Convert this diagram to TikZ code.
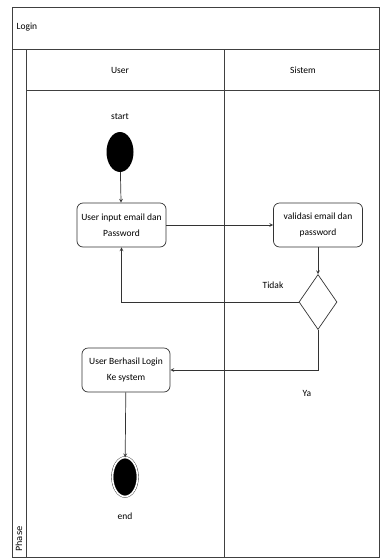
\documentclass[tikz,border=0pt]{standalone}
\usepackage{fontspec}
\setmainfont{Carlito}
\usepackage{tikz}
\usetikzlibrary{shapes,arrows,positioning,calc}

\begin{document}
\begin{tikzpicture}[
    x=1pt, y=-1pt,
    lane/.style={draw=black!75, line width=0.7pt},
    act/.style={rectangle, draw=black!80, line width=0.7pt, rounded corners=6pt, minimum width=89pt, minimum height=44pt, align=center, font=\fontsize{9.5}{16}\selectfont, inner sep=1pt},
    decision/.style={diamond, draw=black!80, line width=0.7pt, minimum width=38pt, minimum height=55pt, inner sep=0pt},
    startnode/.style={ellipse, fill=black, minimum width=27pt, minimum height=40pt, inner sep=0pt},
    endnode/.style={ellipse, fill=black, draw=black!85, double=white, double distance=1.6pt, minimum width=25pt, minimum height=39pt, inner sep=0pt},
    lbl/.style={font=\fontsize{9.5}{11}\selectfont},
    arrow/.style={->, >=stealth, draw=black!80, line width=0.7pt}
]
\useasboundingbox (0,0) rectangle (380,558);

% Swimlanes
\draw[lane] (12,7) rectangle (379.5,557);
\draw[lane] (12,49) -- (380,49);
\draw[lane] (26,49) -- (26,557);
\draw[lane] (26,90) -- (380,90);
\draw[lane] (224,49) -- (224,557);

\node[lbl, anchor=west] (title) at (13,27) {Login};
\node[lbl] (userlane) at (120,70) {User};
\node[lbl] (sistemlane) at (303,70) {Sistem};
\node[lbl, rotate=90] (phase) at (19,539) {\fontspec{DejaVu Sans}\fontsize{8.5}{9}\selectfont Phase};

% Activities
\node[lbl] (startlbl) at (120,117) {start};
\node[startnode] (start) at (120,152) {};
\node[act] (input) at (121.5,225) {User input email dan\\Password};
\node[act] (validasi) at (318,225) {validasi email dan\\password};
\node[decision] (dec) at (318,302) {};
\node[act, minimum width=88pt] (berhasil) at (126,370) {User Berhasil Login\\Ke system};
\node[endnode] (end) at (125,477) {};
\node[lbl] (endlbl) at (125,516) {end};

\draw[arrow] (start) -- (input);
\draw[arrow] (input) -- (validasi);
\draw[arrow] (validasi) -- (dec);
\draw[arrow] (dec.west) -| (input.south);
\node[lbl] (tidak) at (273,285) {Tidak};
\draw[arrow] (dec.south) |- (berhasil.east);
\node[lbl] (ya) at (307,393) {Ya};
\draw[arrow] (berhasil) -- (end);

\end{tikzpicture}
\end{document}
